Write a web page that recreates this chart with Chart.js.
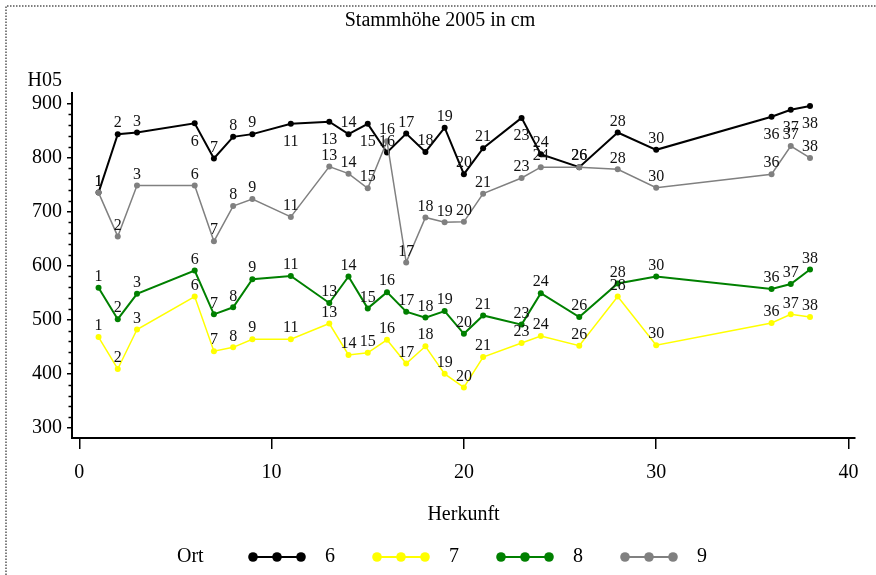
<!DOCTYPE html>
<html>
<head>
<meta charset="utf-8">
<script src="https://cdn.jsdelivr.net/npm/chart.js@4"></script>
<style>
  html, body { margin: 0; padding: 0; background: #fff; }
  canvas { display: block; }
</style>
</head>
<body>
<canvas id="hoehe" width="876" height="575"></canvas>
<script>
// Herkunft (provenance) numbers on the x axis
const herkunft = [1, 2, 3, 6, 7, 8, 9, 11, 13, 14, 15, 16, 17, 18, 19, 20, 21, 23, 24, 26, 28, 30, 36, 37, 38];

// Stammhöhe 2005 (cm) per Ort
const ort6 = [735, 843, 846, 863, 798, 838, 843, 862, 866, 843, 862, 809, 844, 810, 855, 769, 817, 873, 806, 782, 846, 814, 875, 888, 895];
const ort7 = [468, 409, 482, 543, 442, 449, 464, 464, 493, 435, 439, 463, 419, 451, 400, 375, 431, 457, 470, 452, 543, 453, 494, 510, 505];
const ort8 = [559, 501, 548, 591, 510, 523, 575, 581, 531, 580, 521, 551, 515, 504, 516, 474, 508, 491, 549, 505, 567, 580, 557, 566, 593];
const ort9 = [735, 654, 748, 748, 645, 710, 723, 690, 783, 770, 743, 830, 606, 689, 680, 681, 733, 762, 782, 782, 778, 744, 769, 821, 799];

const ortNames = ["6", "7", "8", "9"];
const xTicks = [0, 10, 20, 30, 40];
const yTicks = [300, 400, 500, 600, 700, 800, 900];

// points of Ort 6 whose label sits under the marker
const ort6LabelsBelow = [6, 11, 13, 15, 23, 36, 37, 38];

const serif = "'Liberation Serif', 'Times New Roman', serif";
Chart.defaults.font.family = serif;
Chart.defaults.color = "#000";

function series(name, values, color, width, order, below) {
  return {
    label: name,
    data: herkunft.map((h, i) => ({ x: h, y: values[i] })),
    borderColor: color,
    backgroundColor: color,
    pointBackgroundColor: color,
    pointBorderColor: color,
    pointRadius: 3,
    pointBorderWidth: 0,
    borderWidth: width,
    tension: 0,
    order: order,
    labelsBelow: below || [],
  };
}

// point labels, frame, title and legend
const decorations = {
  id: "decorations",
  afterDatasetsDraw(chart) {
    const ctx = chart.ctx;
    ctx.save();
    ctx.font = "16px " + serif;
    ctx.fillStyle = "#111";
    ctx.textAlign = "center";
    ctx.textBaseline = "middle";
    chart.data.datasets.forEach((ds, di) => {
      const meta = chart.getDatasetMeta(di);
      meta.data.forEach((pt, i) => {
        const below = ds.labelsBelow.includes(herkunft[i]);
        ctx.fillText(String(herkunft[i]), pt.x, below ? pt.y + 18 : pt.y - 11);
      });
    });

    // minor ticks on the y axis
    const ys = chart.scales.y;
    ctx.strokeStyle = "#000";
    ctx.lineWidth = 1.5;
    for (let v = 300; v <= 900; v += 20) {
      if (v % 100 === 0) continue;
      const py = Math.round(ys.getPixelForValue(v)) + 0.5;
      ctx.beginPath();
      ctx.moveTo(ys.right - 3.5, py);
      ctx.lineTo(ys.right, py);
      ctx.stroke();
    }
    ctx.restore();
  },
  afterDraw(chart) {
    const ctx = chart.ctx;
    const area = chart.chartArea;
    ctx.save();

    // dotted frame
    ctx.strokeStyle = "#555";
    ctx.lineWidth = 1.5;
    ctx.setLineDash([1.5, 1.5]);
    ctx.beginPath();
    ctx.moveTo(6, 575);
    ctx.lineTo(6, 6);
    ctx.lineTo(876, 6);
    ctx.stroke();
    ctx.setLineDash([]);

    ctx.fillStyle = "#000";
    ctx.font = "20px " + serif;
    ctx.textBaseline = "middle";

    ctx.textAlign = "center";
    ctx.fillText("Stammhöhe 2005 in cm", 440, 21);
    ctx.fillText("Herkunft", (area.left + area.right) / 2, 515);

    ctx.textAlign = "right";
    ctx.fillText("H05", 62, 81);

    // legend
    ctx.textAlign = "left";
    ctx.fillText("Ort", 177, 557);
    chart.data.datasets.forEach((ds, i) => {
      const x0 = 253 + i * 124;
      const y0 = 557;
      ctx.strokeStyle = ds.borderColor;
      ctx.fillStyle = ds.borderColor;
      ctx.lineWidth = 2;
      ctx.beginPath();
      ctx.moveTo(x0 - 3, y0);
      ctx.lineTo(x0 + 51, y0);
      ctx.stroke();
      for (let k = 0; k < 3; k++) {
        ctx.beginPath();
        ctx.arc(x0 + k * 24, y0, 4.8, 0, Math.PI * 2);
        ctx.fill();
      }
      ctx.fillStyle = "#000";
      ctx.textAlign = "center";
      ctx.fillText(ortNames[i], x0 + 77, y0);
    });
    ctx.restore();
  },
};

new Chart(document.getElementById("hoehe"), {
  type: "line",
  data: {
    datasets: [
      series(ortNames[0], ort6, "#000000", 2, 4, ort6LabelsBelow),
      series(ortNames[1], ort7, "#ffff00", 1.5, 3),
      series(ortNames[2], ort8, "#008000", 2, 2),
      series(ortNames[3], ort9, "#808080", 1.5, 1),
    ],
  },
  options: {
    responsive: false,
    animation: false,
    layout: { padding: { top: 93, right: 21, left: 0, bottom: 0 } },
    plugins: {
      legend: { display: false },
      title: { display: false },
      tooltip: { enabled: false },
    },
    scales: {
      x: {
        type: "linear",
        min: -0.38,
        max: 40.34,
        afterBuildTicks: (s) => { s.ticks = xTicks.map((v) => ({ value: v })); },
        afterFit: (s) => { s.height = 137; },
        grid: { drawOnChartArea: false, drawTicks: true, tickLength: 11, color: "#000", lineWidth: 1.5 },
        border: { display: true, color: "#000", width: 2 },
        ticks: { font: { size: 20 }, padding: 12, maxRotation: 0, color: "#000" },
      },
      y: {
        type: "linear",
        min: 281.5,
        max: 919,
        afterBuildTicks: (s) => { s.ticks = yTicks.map((v) => ({ value: v })); },
        afterFit: (s) => { s.width = 72; },
        grid: { drawOnChartArea: false, drawTicks: true, tickLength: 5, color: "#000", lineWidth: 1.5 },
        border: { display: true, color: "#000", width: 2 },
        ticks: { font: { size: 20 }, padding: 5, color: "#000" },
      },
    },
  },
  plugins: [decorations],
});
</script>
</body>
</html>
